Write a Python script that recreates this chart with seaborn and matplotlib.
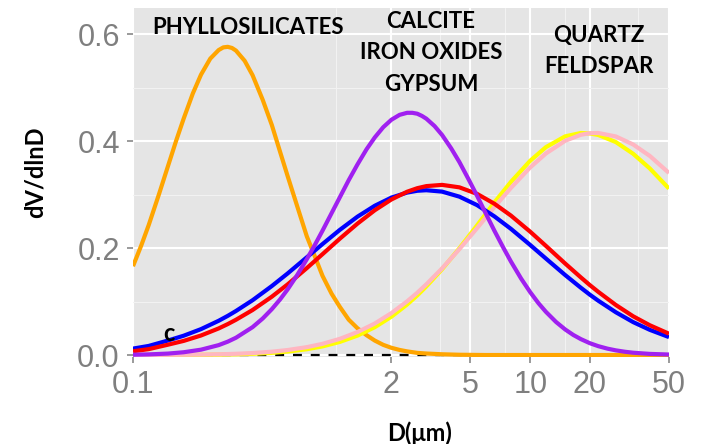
import matplotlib
matplotlib.use("Agg")
import matplotlib.pyplot as plt
import pandas as pd
import seaborn as sns
from matplotlib.ticker import FixedLocator, FixedFormatter, NullFormatter

# ---------------- data ----------------
D = [0.1, 0.12, 0.15, 0.18, 0.22, 0.27, 0.3, 0.33, 0.4, 0.5, 0.6, 0.75, 0.9,
     1.1, 1.35, 1.65, 2, 2.4, 2.7, 3, 3.6, 4.4, 5.4, 6.6, 8, 10, 12, 15, 18,
     20, 22, 27, 33, 40, 50]

D_phyllo = [0.1, 0.11, 0.12, 0.135, 0.15, 0.165, 0.18, 0.2, 0.22, 0.245,
            0.27, 0.285, 0.3, 0.315, 0.33, 0.365, 0.4, 0.45, 0.5, 0.55,
            0.6, 0.67, 0.75, 0.82, 0.9, 1.0, 1.1, 1.22, 1.35, 1.5,
            1.65, 1.82, 2, 2.2, 2.4, 2.7, 3, 3.6, 4.4, 6, 10, 20, 50]
phyllosilicates = [0.166, 0.2046, 0.243, 0.300, 0.353, 0.4008, 0.442, 0.4887, 0.524, 0.554,
                   0.570, 0.575, 0.576, 0.5739, 0.569, 0.5499, 0.523, 0.4769, 0.430, 0.3801,
                   0.335, 0.279, 0.222, 0.1861, 0.148, 0.1146, 0.090, 0.066, 0.050, 0.037,
                   0.027, 0.019, 0.0135, 0.0095, 0.0068, 0.004, 0.0028, 0.0014, 0.0005, 0,
                   0, 0, 0]

D_gypsum = [0.1, 0.12, 0.15, 0.18, 0.22, 0.27, 0.3, 0.33, 0.4, 0.45,
            0.5, 0.55, 0.6, 0.67, 0.75, 0.82, 0.9, 1.0, 1.1, 1.22,
            1.35, 1.5, 1.65, 1.82, 2, 2.2, 2.4, 2.55, 2.7, 2.85,
            3, 3.3, 3.6, 4.0, 4.4, 4.9, 5.4, 6.0, 6.6, 7.3,
            8, 9, 10, 11, 12, 13.5, 15, 16.5, 18, 20,
            22, 24.5, 27, 30, 33, 40, 50]
gypsum = [0.0006, 0.0012, 0.0027, 0.0052, 0.0100, 0.0185, 0.025, 0.0323, 0.0521, 0.0683,
          0.0857, 0.1038, 0.1224, 0.149, 0.179, 0.2045, 0.2324, 0.2652, 0.2948, 0.3269,
          0.3562, 0.3846, 0.4067, 0.4258, 0.4397, 0.4489, 0.4527, 0.4527, 0.451, 0.4469,
          0.4417, 0.4279, 0.4113, 0.3863, 0.3607, 0.3281, 0.2977, 0.2633, 0.2325, 0.2016,
          0.1747, 0.1429, 0.1175, 0.097, 0.0807, 0.0617, 0.0478, 0.0374, 0.0297, 0.022,
          0.0166, 0.0119, 0.0087, 0.0061, 0.0043, 0.0021, 0.0009]

calcite = [0.012, 0.017, 0.0271, 0.0361, 0.0484, 0.0640, 0.0732, 0.0823, 0.1024,
           0.1289, 0.1523, 0.1826, 0.2074, 0.2339, 0.2586, 0.2790, 0.2942, 0.3036,
           0.307, 0.308, 0.3054, 0.2960, 0.2802, 0.2592, 0.2358, 0.2057, 0.1803,
           0.1495, 0.1257, 0.1126, 0.1016, 0.0799, 0.0615, 0.0471, 0.0335]
iron_oxides = [0.007, 0.011, 0.0193, 0.0264, 0.0365, 0.0497, 0.0578, 0.0659, 0.0841,
               0.1090, 0.1319, 0.1624, 0.1885, 0.2174, 0.2456, 0.2706, 0.2907, 0.3052,
               0.3118, 0.3157, 0.318, 0.3134, 0.3012, 0.2828, 0.2606, 0.2305, 0.2040,
               0.1710, 0.1450, 0.1305, 0.1182, 0.0935, 0.0724, 0.0557, 0.0398]
quartz = [0, 0, 0.0001, 0.0002, 0.0004, 0.0007, 0.0011, 0.0013, 0.0022, 0.0040,
          0.0064, 0.0108, 0.0161, 0.0245, 0.0363, 0.0520, 0.0716, 0.0944, 0.1114,
          0.1282, 0.1603, 0.1995, 0.2423, 0.2852, 0.3236, 0.3631, 0.3885, 0.4087,
          0.415, 0.414, 0.4113, 0.398, 0.3761, 0.3488, 0.3110]
feldspar = [0.0001, 0.0001, 0.0003, 0.0005, 0.0008, 0.0014, 0.0018, 0.0023, 0.0037,
            0.0062, 0.0093, 0.0147, 0.0209, 0.0302, 0.0429, 0.0589, 0.0783, 0.1003,
            0.1164, 0.1322, 0.1619, 0.1979, 0.2371, 0.2764, 0.3124, 0.3506, 0.3767,
            0.4004, 0.4117, 0.4146, 0.415, 0.4085, 0.3935, 0.3722, 0.3402]

baseline_x = [0.1, 50]
baseline_y = [0, 0]

series = {
    "phyllosilicates": (D_phyllo, phyllosilicates),
    "quartz": (D, quartz),
    "feldspar": (D, feldspar),
    "calcite": (D, calcite),
    "iron_oxides": (D, iron_oxides),
    "gypsum": (D_gypsum, gypsum),
}
colors = {
    "phyllosilicates": "#FFA500",
    "quartz": "#FFFF00",
    "feldspar": "#FFB6C1",
    "calcite": "#0000FF",
    "iron_oxides": "#FF0000",
    "gypsum": "#A020F0",
}

x_ticks = [0.1, 2, 5, 10, 20, 50]
x_tick_labels = ["0.1", "2", "5", "10", "20", "50"]
x_minor = [1.05, 3.5, 7.5, 15, 35]
y_ticks = [0.0, 0.2, 0.4, 0.6]
y_tick_labels = ["0.0", "0.2", "0.4", "0.6"]
y_minor = [0.1, 0.3, 0.5]

# ---------------- build table ----------------
rows = []
for name, (xs, vals) in series.items():
    for d, v in zip(xs, vals):
        rows.append({"D": d, "dV": v, "mineral": name})
df = pd.DataFrame(rows)

# ---------------- plot ----------------
sns.set_theme(style="darkgrid")
plt.rcParams["font.family"] = ["Liberation Sans", "DejaVu Sans"]

W, H = 701, 444
fig = plt.figure(figsize=(W / 100, H / 100), dpi=100)
ax = fig.add_axes([133 / W, 1 - 357 / H, (669 - 133) / W, (357 - 8) / H])
ax.set_facecolor("#E5E5E5")

# dashed baseline
sns.lineplot(x=baseline_x, y=baseline_y, color="black", linewidth=1.6,
             ax=ax, legend=False)
ax.lines[-1].set_dashes((4, 4))
ax.lines[-1].set_zorder(1.5)

sns.lineplot(data=df, x="D", y="dV", hue="mineral", hue_order=list(series.keys()),
             palette=colors, linewidth=3, legend=False, ax=ax, estimator=None)
for ln in ax.lines[1:]:
    ln.set_solid_capstyle("butt")
    ln.set_solid_joinstyle("round")
    ln.set_zorder(2)

ax.set_xscale("log")
ax.set_xlim(0.1, 50)
ax.set_ylim(-0.0037, 0.6486)

ax.xaxis.set_major_locator(FixedLocator(x_ticks))
ax.xaxis.set_major_formatter(FixedFormatter(x_tick_labels))
ax.xaxis.set_minor_locator(FixedLocator(x_minor))
ax.xaxis.set_minor_formatter(NullFormatter())
ax.yaxis.set_major_locator(FixedLocator(y_ticks))
ax.yaxis.set_major_formatter(FixedFormatter(y_tick_labels))
ax.yaxis.set_minor_locator(FixedLocator(y_minor))
ax.yaxis.set_minor_formatter(NullFormatter())

ax.grid(which="major", color="white", linewidth=1.5)
ax.grid(which="minor", color="#F2F2F2", linewidth=0.8)
ax.set_axisbelow(True)
for s in ax.spines.values():
    s.set_visible(False)

ax.tick_params(which="major", length=4.5, width=1.1, color="#7F7F7F",
               labelcolor="#7F7F7F", labelsize=22, pad=5)
ax.tick_params(which="minor", length=0)
ax.tick_params(axis="x", which="both", bottom=True)
ax.tick_params(axis="y", which="both", left=True)

ax.set_xlabel("")
ax.set_ylabel("")

bold = dict(fontweight="bold", family=["Lato", "DejaVu Sans"], color="black")
fig.text(420 / W, 1 - 433 / H, "D(μm)", ha="center", va="center", fontsize=17, **bold)
fig.text(35 / W, 1 - 172 / H, "dV/dlnD", ha="center", va="center", rotation=90,
         fontsize=17, **bold)

ann = dict(ha="center", va="center", fontsize=16, **bold)
ax.text(0.379, 0.613, "PHYLLOSILICATES", **ann)
ax.text(3.17, 0.624, "CALCITE", **ann)
ax.text(3.17, 0.565, "IRON OXIDES", **ann)
ax.text(3.17, 0.505, "GYPSUM", **ann)
ax.text(22.2, 0.598, "QUARTZ", **ann)
ax.text(22.2, 0.540, "FELDSPAR", **ann)
ax.text(0.151, 0.040, "c", ha="center", va="center", fontsize=17, **bold)

fig.savefig("out.png", dpi=100)
